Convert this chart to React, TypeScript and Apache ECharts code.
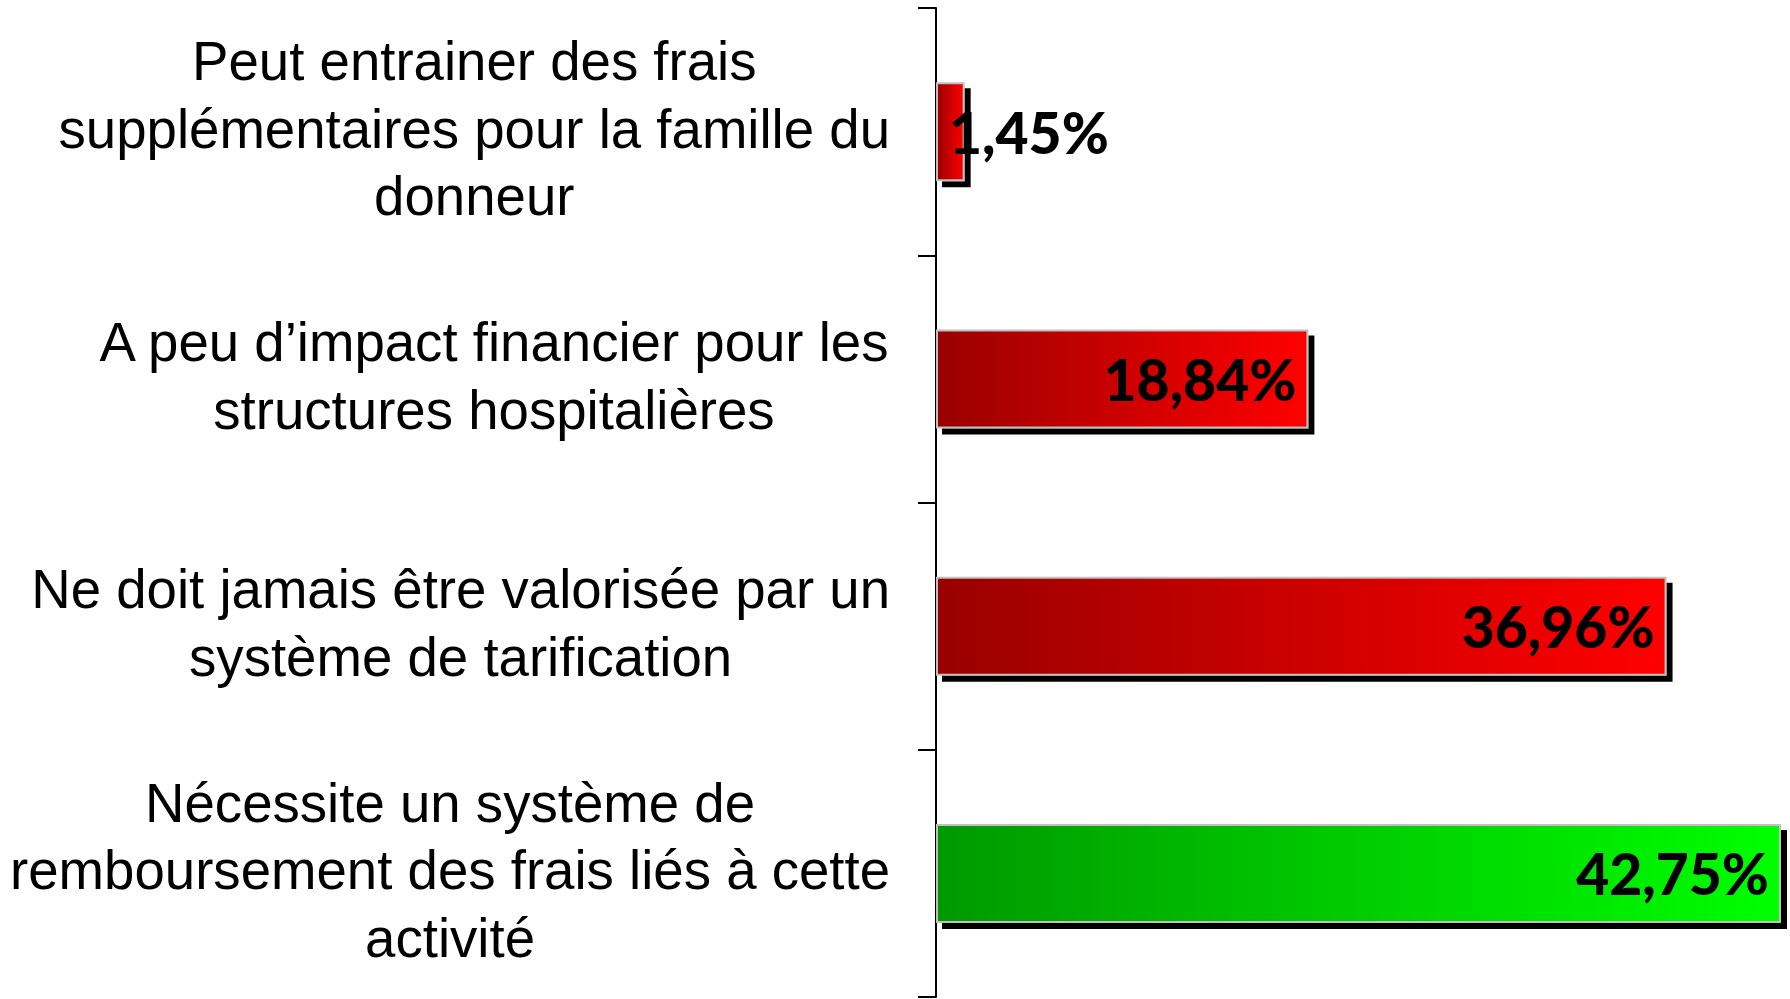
import React, { useEffect, useRef } from "react";
import * as echarts from "echarts";

const categories = [
  "Peut entrainer des frais\nsupplémentaires pour la famille du\ndonneur",
  "A peu d’impact financier pour les\nstructures hospitalières",
  "Ne doit jamais être valorisée par un\nsystème de tarification",
  "Nécessite un système de\nremboursement des frais liés à cette\nactivité",
];
const values = [1.45, 18.84, 36.96, 42.75];
const valueLabels = ["1,45%", "18,84%", "36,96%", "42,75%"];
const isPositive = [false, false, false, true];

export default function App() {
  const ref = useRef<HTMLDivElement>(null);
  useEffect(() => {
    if (!ref.current) return;
    const chart = echarts.init(ref.current, null, { renderer: "svg" });
    const red = new echarts.graphic.LinearGradient(0, 0, 1, 0, [
      { offset: 0, color: "#990000" },
      { offset: 1, color: "#ff0000" },
    ]);
    const green = new echarts.graphic.LinearGradient(0, 0, 1, 0, [
      { offset: 0, color: "#009900" },
      { offset: 1, color: "#00ff00" },
    ]);
    const labelFont = {
      fontFamily: "Lato",
      fontWeight: 900 as const,
      fontSize: 57,
      color: "#000",
    };
    chart.setOption({
      animation: false,
      grid: { left: 936, right: 9, top: 8, bottom: 2, containLabel: false },
      xAxis: {
        type: "value",
        min: 0,
        max: "dataMax",
        show: false,
      },
      yAxis: {
        type: "category",
        inverse: true,
        data: categories,
        axisLine: { show: true, lineStyle: { color: "#000", width: 2 } },
        axisTick: { show: true, inside: false, length: 18, lineStyle: { color: "#000", width: 2 } },
        axisLabel: {
          margin: 46,
          align: "right",
          padding: [0, 0, 5, 0],
          formatter: (v: string) =>
            v
              .split("\n")
              .map((l) => `{c|${l}}`)
              .join("\n"),
          rich: {
            c: {
              align: "center",
              fontFamily: "Liberation Sans",
              fontSize: 54.6,
              lineHeight: 67.5,
              color: "#000",
            },
          },
        },
        splitLine: { show: false },
      },
      series: [
        {
          type: "bar",
          barWidth: 99,
          data: values.map((v, i) => ({
            value: v,
            itemStyle: { color: isPositive[i] ? green : red },
            label:
              i === 0
                ? {
                    show: true,
                    position: [13, "50%"],
                    align: "left",
                    verticalAlign: "middle",
                    formatter: () => valueLabels[i],
                    ...labelFont,
                  }
                : {
                    show: true,
                    position: "insideRight",
                    distance: 12,
                    formatter: () => valueLabels[i],
                    ...labelFont,
                  },
          })),
          itemStyle: {
            borderColor: "#c0c0c0",
            borderWidth: 2,
            shadowColor: "#000",
            shadowBlur: 0,
            shadowOffsetX: 6,
            shadowOffsetY: 6,
          },
        },
      ],
    });
    return () => chart.dispose();
  }, []);
  return (
    <div
      ref={ref}
      style={{ position: "fixed", left: 0, top: 0, width: 1790, height: 999, background: "#fff" }}
    />
  );
}
